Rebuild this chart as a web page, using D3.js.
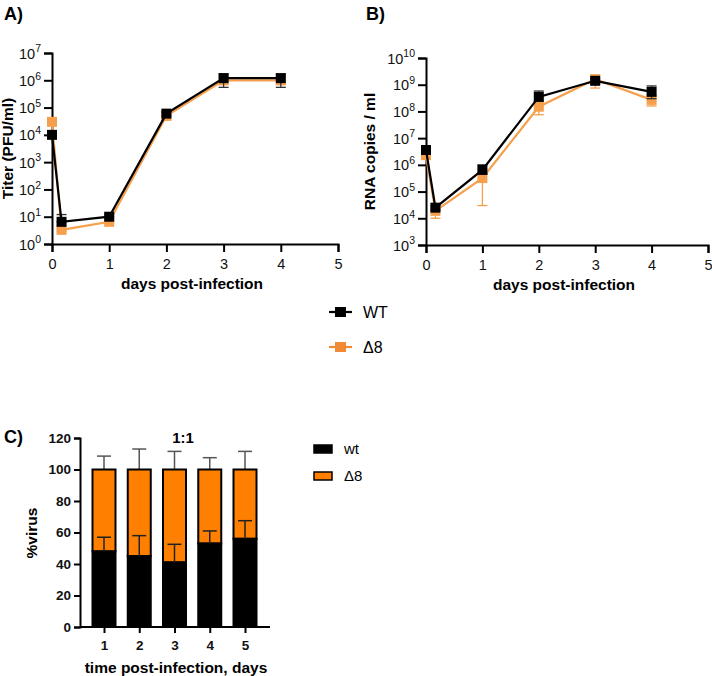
<!DOCTYPE html>
<html><head><meta charset="utf-8">
<script src="https://cdn.jsdelivr.net/npm/d3@7"></script>
<style>
body{margin:0;background:#fff;}
text{font-family:"Liberation Sans",Arial,sans-serif;}
</style></head>
<body>
<svg id="c" width="712" height="676"></svg>
<script>
// ---------- data ----------
const daysA = [0, 0.167, 1, 2, 3, 4];
const xTicks = [0, 1, 2, 3, 4, 5];
const titerExps = [0, 1, 2, 3, 4, 5, 6, 7];
const rnaExps = [3, 4, 5, 6, 7, 8, 9, 10];

const wtTiter   = [1e4, 6.5, 10, 6e4, 1.2e6, 1.2e6];
const wtTiterLo = [1e4, 6.5, 10, 5e4, 5.5e5, 5.5e5];
const wtTiterHi = [1e4, 12, 12, 7e4, 1.7e6, 1.7e6];
const d8Titer   = [3e4, 3.3, 6.5, 5e4, 1e6, 1e6];
const d8TiterLo = [3e4, 3.0, 6.0, 3.5e4, 7e5, 7e5];
const d8TiterHi = [3e4, 3.8, 7.0, 6e4, 1.3e6, 1.3e6];

const wtRNA   = [3.6e6, 2.5e4, 6.5e5, 3.5e8, 1.4e9, 5.4e8];
const wtRNALo = [3.0e6, 2.0e4, 4.5e5, 2.5e8, 1.1e9, 3.0e8];
const wtRNAHi = [4.2e6, 3.0e4, 1.0e6, 5.8e8, 1.7e9, 9.0e8];
const d8RNA   = [2.3e6, 1.9e4, 3.2e5, 1.5e8, 1.6e9, 2.7e8];
const d8RNALo = [1.8e6, 1.0e4, 3.0e4, 7.5e7, 7.5e8, 1.6e8];
const d8RNAHi = [2.8e6, 2.5e4, 7.0e5, 2.2e8, 2.3e9, 4.0e8];

const barDays = ["1", "2", "3", "4", "5"];
const wtPct   = [48, 45, 41, 53, 56];
const wtPctHi = [57, 58, 52.5, 61, 67.5];
const totPct  = [100, 100, 100, 100, 100];
const totPctHi= [108.5, 113, 111.5, 107.5, 111.5];
const pctTicks = [0, 20, 40, 60, 80, 100, 120];

const BLACK = "#000", ORANGE_LINE = "#f6a04d", ORANGE_BAR = "#ff8000";

const svg = d3.select("#c");

function panelLabel(x, y, t) {
  svg.append("text").attr("x", x).attr("y", y).attr("font-size", 18).attr("font-weight", "bold").text(t);
}

function logPanel(opt) {
  const g = svg.append("g");
  const x = d3.scaleLinear().domain([0, 5]).range(opt.xr);
  const y = d3.scaleLog().domain([Math.pow(10, opt.exps[0]), Math.pow(10, opt.exps[opt.exps.length - 1])]).range(opt.yr);
  const xa = g.append("g").attr("transform", `translate(0,${opt.yr[0]})`)
    .call(d3.axisBottom(x).tickValues(xTicks).tickSize(8).tickFormat(d3.format("d")));
  const ya = g.append("g").attr("transform", `translate(${opt.xr[0]},0)`)
    .call(d3.axisLeft(y).tickValues(opt.exps.map(e => Math.pow(10, e))).tickSize(8).tickFormat(""));
  [xa, ya].forEach(a => {
    a.select(".domain").attr("stroke", "#000").attr("stroke-width", 2);
    a.selectAll(".tick line").attr("stroke", "#000").attr("stroke-width", 2);
  });
  xa.selectAll(".tick text").attr("font-size", 14.5).attr("dy", "0.95em").attr("fill", "#111");
  ya.selectAll(".tick").each(function (d) {
    const e = Math.round(Math.log10(d));
    const t = d3.select(this).append("text").attr("x", -11).attr("dy", "0.35em")
      .attr("text-anchor", "end").attr("font-size", 14.5).attr("fill", "#111");
    t.append("tspan").text("10");
    t.append("tspan").attr("font-size", 10.5).attr("dy", "-0.6em").text(e);
  });
  g.append("text").attr("x", (opt.xr[0] + opt.xr[1]) / 2 - 3).attr("y", opt.yr[0] + 45)
    .attr("text-anchor", "middle").attr("font-size", 15.5).attr("font-weight", "bold").text("days post-infection");
  g.append("text").attr("transform", `translate(${opt.ytx},${(opt.yr[0] + opt.yr[1]) / 2}) rotate(-90)`)
    .attr("text-anchor", "middle").attr("font-size", 15.5).attr("font-weight", "bold").text(opt.ytitle);

  function series(vals, lo, hi, col, barCol) {
    const pts = daysA.map((d, i) => ({ d, v: vals[i], lo: lo[i], hi: hi[i] }));
    const eb = g.append("g").attr("stroke", barCol).attr("stroke-width", 1.3);
    pts.forEach(p => {
      if (p.hi > p.lo) {
        eb.append("line").attr("x1", x(p.d)).attr("x2", x(p.d)).attr("y1", y(p.lo)).attr("y2", y(p.hi));
        [p.lo, p.hi].forEach(v => eb.append("line").attr("x1", x(p.d) - 5).attr("x2", x(p.d) + 5).attr("y1", y(v)).attr("y2", y(v)));
      }
    });
    g.append("path").datum(pts).attr("fill", "none").attr("stroke", col).attr("stroke-width", 2.2)
      .attr("d", d3.line().x(p => x(p.d)).y(p => y(p.v)));
    g.selectAll(null).data(pts).enter().append("rect")
      .attr("x", p => x(p.d) - 5).attr("y", p => y(p.v) - 5).attr("width", 10).attr("height", 10).attr("fill", col);
  }
  series(opt.d8, opt.d8lo, opt.d8hi, ORANGE_LINE, ORANGE_LINE);
  series(opt.wt, opt.wtlo, opt.wthi, BLACK, "#333");
}

panelLabel(4, 20, "A)");
logPanel({ xr: [52, 338], yr: [244, 53], exps: titerExps, ytitle: "Titer (PFU/ml)", ytx: 13,
  wt: wtTiter, wtlo: wtTiterLo, wthi: wtTiterHi, d8: d8Titer, d8lo: d8TiterLo, d8hi: d8TiterHi });
panelLabel(366, 20, "B)");
logPanel({ xr: [426, 708], yr: [245, 58], exps: rnaExps, ytitle: "RNA copies / ml", ytx: 375,
  wt: wtRNA, wtlo: wtRNALo, wthi: wtRNAHi, d8: d8RNA, d8lo: d8RNALo, d8hi: d8RNAHi });

const legAB = [{ name: "WT", col: BLACK, y: 312 }, { name: "\u03948", col: "#f08a35", y: 347 }];
legAB.forEach(l => {
  svg.append("line").attr("x1", 329).attr("x2", 352).attr("y1", l.y).attr("y2", l.y).attr("stroke", l.col).attr("stroke-width", 2.2);
  svg.append("rect").attr("x", 335).attr("y", l.y - 5).attr("width", 11).attr("height", 10).attr("fill", l.col);
  svg.append("text").attr("x", 363).attr("y", l.y).attr("dy", "0.36em").attr("font-size", 16).text(l.name);
});

// ---------- panel C ----------
panelLabel(4, 443, "C)");
svg.append("text").attr("x", 183).attr("y", 443).attr("text-anchor", "middle").attr("font-size", 15).attr("font-weight", "bold").text("1:1");
const xc = d3.scalePoint().domain(barDays).range([104, 245]);
const yc = d3.scaleLinear().domain([0, 120]).range([627, 438]);
const gc = svg.append("g");
const bw = 23;
barDays.forEach((d, i) => {
  gc.append("line").attr("x1", xc(d)).attr("x2", xc(d)).attr("y1", yc(totPct[i])).attr("y2", yc(totPctHi[i])).attr("stroke", "#555").attr("stroke-width", 1.5);
  gc.append("line").attr("x1", xc(d) - 7).attr("x2", xc(d) + 7).attr("y1", yc(totPctHi[i])).attr("y2", yc(totPctHi[i])).attr("stroke", "#555").attr("stroke-width", 1.5);
});
gc.selectAll(null).data(barDays).enter().append("rect")
  .attr("x", d => xc(d) - bw / 2).attr("width", bw)
  .attr("y", (d, i) => yc(totPct[i])).attr("height", (d, i) => yc(wtPct[i]) - yc(totPct[i]))
  .attr("fill", ORANGE_BAR).attr("stroke", "#000").attr("stroke-width", 2);
gc.selectAll(null).data(barDays).enter().append("rect")
  .attr("x", d => xc(d) - bw / 2).attr("width", bw)
  .attr("y", (d, i) => yc(wtPct[i])).attr("height", (d, i) => yc(0) - yc(wtPct[i]))
  .attr("fill", "#000").attr("stroke", "#000").attr("stroke-width", 2);
barDays.forEach((d, i) => {
  gc.append("line").attr("x1", xc(d)).attr("x2", xc(d)).attr("y1", yc(wtPct[i])).attr("y2", yc(wtPctHi[i])).attr("stroke", "#222").attr("stroke-width", 1.5);
  gc.append("line").attr("x1", xc(d) - 7).attr("x2", xc(d) + 7).attr("y1", yc(wtPctHi[i])).attr("y2", yc(wtPctHi[i])).attr("stroke", "#222").attr("stroke-width", 1.5);
});
const xca = gc.append("g").attr("transform", `translate(0,${yc(0)})`)
  .call(d3.axisBottom(xc).tickSize(6).tickSizeOuter(0));
const yca = gc.append("g").attr("transform", "translate(80,0)")
  .call(d3.axisLeft(yc).tickValues(pctTicks).tickSize(6));
xca.select(".domain").attr("d", `M80,0H270`);
[xca, yca].forEach(a => {
  a.select(".domain").attr("stroke", "#000").attr("stroke-width", 2);
  a.selectAll(".tick line").attr("stroke", "#000").attr("stroke-width", 2);
  a.selectAll(".tick text").attr("font-size", 13.5).attr("font-weight", "bold").attr("fill", "#111");
});
xca.selectAll(".tick text").attr("dy", "1em");
yca.selectAll(".tick text").attr("x", -9);
gc.append("text").attr("x", 176).attr("y", 673).attr("text-anchor", "middle").attr("font-size", 15.5).attr("font-weight", "bold").text("time post-infection, days");
gc.append("text").attr("transform", `translate(37,533) rotate(-90)`).attr("text-anchor", "middle").attr("font-size", 15.5).attr("font-weight", "bold").text("%virus");

const legC = [{ name: "wt", col: "#000", y: 449 }, { name: "\u03948", col: ORANGE_BAR, y: 476 }];
legC.forEach(l => {
  svg.append("rect").attr("x", 314).attr("y", l.y - 4).attr("width", 18).attr("height", 8).attr("fill", l.col).attr("stroke", "#000").attr("stroke-width", 1.5);
  svg.append("text").attr("x", 344).attr("y", l.y).attr("dy", "0.36em").attr("font-size", 15).text(l.name);
});
</script>
</body></html>
